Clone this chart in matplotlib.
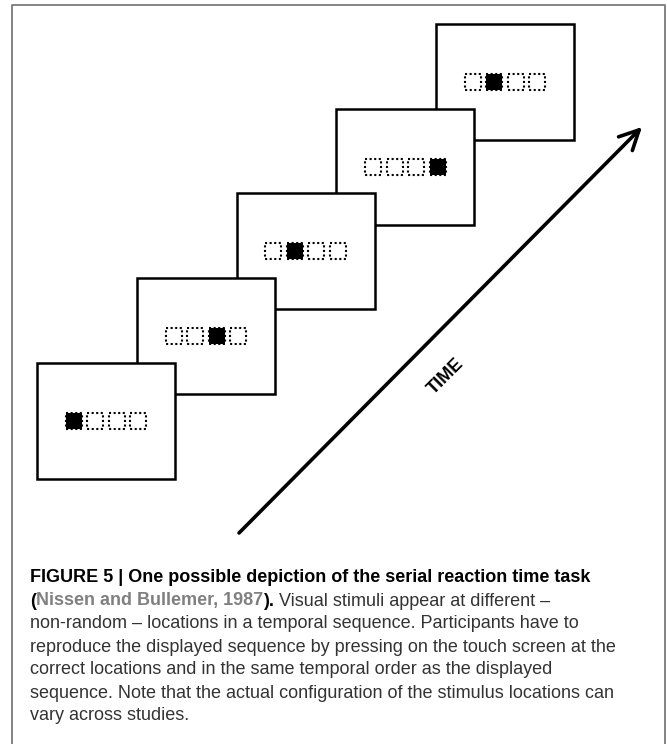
import matplotlib
matplotlib.use("Agg")
import matplotlib.pyplot as plt
from matplotlib.patches import Rectangle
from matplotlib import font_manager

# ---- data ----
n_locations = 4
filled_positions = [0, 2, 1, 3, 1]          # active stimulus location on each successive screen
axis_label = "TIME"
caption_title = "FIGURE 5 | One possible depiction of the serial reaction time task"
caption_ref = "Nissen and Bullemer, 1987"
caption_lines = [
    "non-random \u2013 locations in a temporal sequence. Participants have to",
    "reproduce the displayed sequence by pressing on the touch screen at the",
    "correct locations and in the same temporal order as the displayed",
    "sequence. Note that the actual configuration of the stimulus locations can",
    "vary across studies.",
]
caption_line2_rest = " Visual stimuli appear at different \u2013"

names = {f.name for f in font_manager.fontManager.ttflist}
cap_font = "Liberation Sans Narrow" if "Liberation Sans Narrow" in names else "Liberation Sans"

W, H = 667, 744
fig = plt.figure(figsize=(W / 100, H / 100), dpi=100)
ax = fig.add_axes([0, 0, 1, 1])
ax.set_xlim(0, W)
ax.set_ylim(H, 0)
ax.axis("off")

# outer gray frame (open at the bottom)
ax.plot([12, 12, 665, 665], [H + 5, 5, 5, H + 5], color="#7a7a7a", lw=1.3, clip_on=False)

# screens
x0, y0 = 37, 363
dx, dy = 99.8, -84.8
sw, sh = 138, 116
sq, gap = 16, 21.5
n = len(filled_positions)
for i in reversed(range(n)):
    sx = x0 + i * dx
    sy = y0 + i * dy
    ax.add_patch(Rectangle((sx, sy), sw, sh, facecolor="white", edgecolor="black",
                           lw=1.8, zorder=2 + (n - i)))
    cx = sx + sw / 2
    cy = sy + sh / 2
    start = cx - (gap * (n_locations - 1) + sq) / 2
    for k in range(n_locations):
        qx = start + k * gap
        filled = (k == filled_positions[i])
        ax.add_patch(Rectangle((qx, cy - sq / 2), sq, sq,
                               facecolor="black" if filled else "none",
                               edgecolor="black", lw=1.5,
                               linestyle=(0, (1, 1.2)), zorder=2.5 + (n - i)))

# time arrow
ax.annotate("", xy=(642, 127), xytext=(239, 533),
            arrowprops=dict(arrowstyle="->,head_length=1.4,head_width=0.7",
                            lw=2.6, color="black", shrinkA=0, shrinkB=0))
ax.text(446, 376, axis_label, rotation=45, fontsize=13, fontweight="bold",
        ha="center", va="center", family="Liberation Sans")

# caption
fs = 13.0
x_cap = 30
lh = 23
y1 = 578
ax.text(x_cap, y1, caption_title, fontsize=fs, fontweight="bold", color="black",
        family=cap_font, va="center", ha="left")
t1 = ax.text(x_cap, y1 + lh, "(", fontsize=fs, fontweight="bold", color="black",
             family=cap_font, va="center", ha="left")
t2 = ax.annotate(caption_ref, xy=(1, 0), xycoords=t1, fontsize=fs, fontweight="bold",
                 color="#808080", family=cap_font, va="bottom", ha="left")
t3 = ax.annotate(").", xy=(1, 0), xycoords=t2, fontsize=fs, fontweight="bold",
                 color="black", family=cap_font, va="bottom", ha="left")
ax.annotate(caption_line2_rest, xy=(1, 0), xycoords=t3, fontsize=fs,
            color="#333333", family=cap_font, va="bottom", ha="left")
for j, line in enumerate(caption_lines):
    ax.text(x_cap, y1 + lh * (j + 2), line, fontsize=fs, color="#333333",
            family=cap_font, va="center", ha="left")

fig.savefig("out.png", dpi=100)
